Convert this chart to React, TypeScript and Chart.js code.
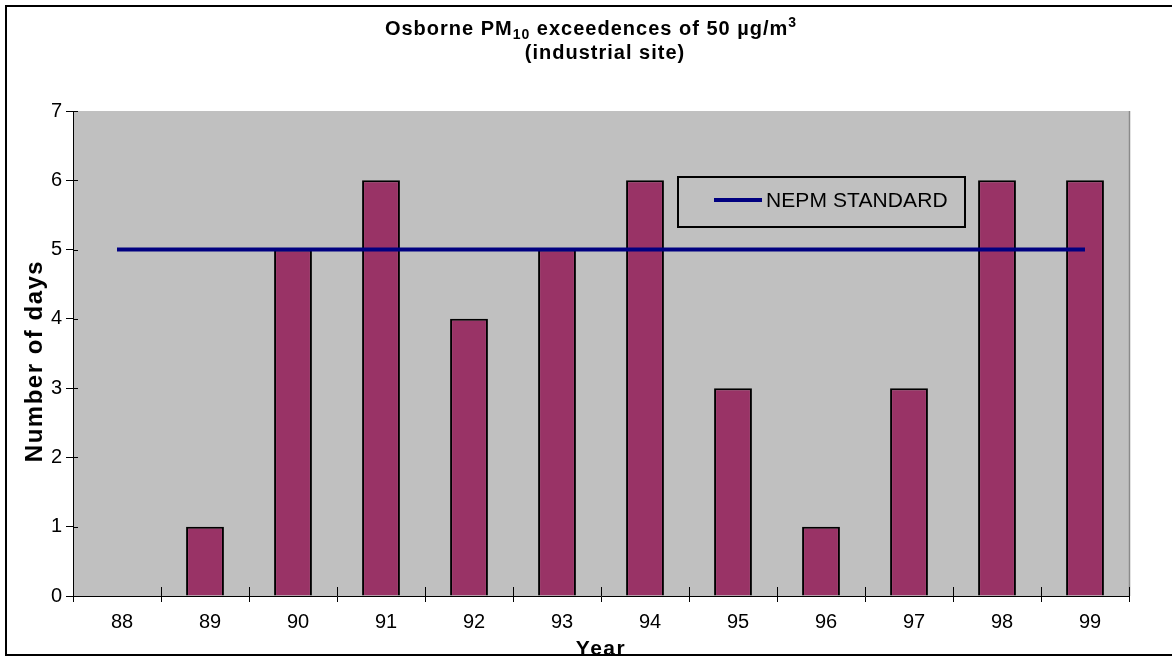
import React, { useEffect, useRef } from "react";
import { Chart, registerables } from "chart.js";

Chart.register(...registerables);

// ---- data ----
const years = ["88", "89", "90", "91", "92", "93", "94", "95", "96", "97", "98", "99"];
const exceedenceDays = [0, 1, 5, 6, 4, 5, 6, 3, 1, 3, 6, 6];
const nepmStandard = [5, 5, 5, 5, 5, 5, 5, 5, 5, 5, 5, 5];
const yMin = 0;
const yMax = 7;
const barLabel = "Exceedences";
const lineLabel = "NEPM STANDARD";
const titleLine1 = [
  { text: "Osborne PM", kind: "normal" },
  { text: "10", kind: "sub" },
  { text: " exceedences of 50 \u00b5g/m", kind: "normal" },
  { text: "3", kind: "sup" },
];
const titleLine2 = "(industrial site)";
const yAxisTitle = "Number of days";
const xAxisTitle = "Year";

const FONT = "'Liberation Sans', Arial, sans-serif";

const decorPlugin = {
  id: "decor",
  beforeDraw(chart: any) {
    const { ctx, chartArea: a, width, height } = chart;
    ctx.save();
    ctx.fillStyle = "#ffffff";
    ctx.fillRect(0, 0, width, height);
    ctx.fillStyle = "#C0C0C0";
    ctx.fillRect(a.left, a.top, a.right - a.left, a.bottom - a.top);
    ctx.strokeStyle = "#8a8a8a";
    ctx.lineWidth = 1.5;
    ctx.beginPath();
    ctx.moveTo(a.right + 0.5, a.top);
    ctx.lineTo(a.right + 0.5, a.bottom);
    ctx.stroke();
    ctx.strokeStyle = "#000";
    ctx.lineWidth = 2;
    ctx.strokeRect(6, 6, width + 20, height - 12);
    ctx.restore();
  },
  afterDatasetsDraw(chart: any) {
    const { ctx, chartArea: a, scales } = chart;
    ctx.save();
    ctx.strokeStyle = "#000";
    ctx.lineWidth = 1;
    for (let v = yMin; v <= yMax; v++) {
      const y = Math.round(scales.y.getPixelForValue(v)) + 0.5;
      ctx.beginPath();
      ctx.moveTo(a.left, y);
      ctx.lineTo(a.left + 5, y);
      ctx.stroke();
    }
    const n = years.length;
    for (let i = 0; i <= n; i++) {
      const x = Math.round(scales.x.getPixelForValue(i - 0.5)) + 0.5;
      ctx.beginPath();
      ctx.moveTo(x, a.bottom);
      ctx.lineTo(x, a.bottom - 9);
      ctx.stroke();
    }
    ctx.restore();
  },
  afterDraw(chart: any) {
    const { ctx } = chart;
    ctx.save();
    ctx.fillStyle = "#000";
    ctx.textBaseline = "alphabetic";
    (ctx as any).letterSpacing = "1px";
    const fontFor = (k: string) => (k === "normal" ? `bold 20px ${FONT}` : `bold 14px ${FONT}`);
    let total = 0;
    for (const s of titleLine1) {
      ctx.font = fontFor(s.kind);
      total += ctx.measureText(s.text).width;
    }
    let x = 591 - total / 2;
    const base1 = 35;
    ctx.textAlign = "left";
    for (const s of titleLine1) {
      ctx.font = fontFor(s.kind);
      const dy = s.kind === "sub" ? 4 : s.kind === "sup" ? -8 : 0;
      ctx.fillText(s.text, x, base1 + dy);
      x += ctx.measureText(s.text).width;
    }
    ctx.font = `bold 20px ${FONT}`;
    ctx.textAlign = "center";
    ctx.fillText(titleLine2, 605, 59);
    // axis titles
    (ctx as any).letterSpacing = "1.5px";
    ctx.font = `bold 21px ${FONT}`;
    ctx.fillText(xAxisTitle, 601, 655);
    ctx.save();
    ctx.font = `bold 24px ${FONT}`;
    ctx.translate(42, 361);
    ctx.rotate(-Math.PI / 2);
    ctx.fillText(yAxisTitle, 0, 0);
    ctx.restore();
    // legend
    ctx.strokeStyle = "#000";
    ctx.lineWidth = 2;
    ctx.strokeRect(678, 177, 287, 50);
    const ds = chart.data.datasets[1];
    ctx.strokeStyle = ds.borderColor;
    ctx.lineWidth = 4;
    ctx.beginPath();
    ctx.moveTo(714, 200);
    ctx.lineTo(762, 200);
    ctx.stroke();
    (ctx as any).letterSpacing = "0.1px";
    ctx.font = `21px ${FONT}`;
    ctx.textAlign = "left";
    ctx.textBaseline = "middle";
    ctx.fillStyle = "#000";
    ctx.fillText(ds.label, 766, 201);
    ctx.restore();
  },
};

export default function App() {
  const canvasRef = useRef<HTMLCanvasElement | null>(null);

  useEffect(() => {
    document.body.style.margin = "0";
    const canvas = canvasRef.current;
    if (!canvas) return;
    Chart.defaults.font.family = FONT;
    Chart.defaults.color = "#000";
    const chart = new Chart(canvas, {
      type: "bar",
      data: {
        labels: years,
        datasets: [
          {
            type: "bar",
            label: barLabel,
            data: exceedenceDays,
            backgroundColor: "#993366",
            borderColor: "#000000",
            borderWidth: 2,
            barPercentage: 0.43,
            categoryPercentage: 1,
            order: 2,
          },
          {
            type: "line",
            label: lineLabel,
            data: nepmStandard,
            borderColor: "#000080",
            backgroundColor: "#000080",
            borderWidth: 4,
            pointRadius: 0,
            fill: false,
            order: 1,
          } as any,
        ],
      },
      options: {
        responsive: false,
        animation: false,
        layout: { padding: { left: 0, right: 43, top: 111, bottom: 0 } },
        plugins: {
          legend: { display: false },
          title: { display: false },
          tooltip: { enabled: false },
        },
        scales: {
          x: {
            offset: true,
            grid: {
              offset: true,
              drawOnChartArea: false,
              drawTicks: true,
              tickLength: 6,
              color: "#000",
              lineWidth: 1,
            },
            border: { display: true, color: "#000", width: 1 },
            ticks: {
              font: { size: 20 },
              color: "#000",
              padding: 8,
              labelOffset: 5,
              maxRotation: 0,
              autoSkip: false,
            },
            afterFit: (s: any) => {
              s.height = 65;
            },
          },
          y: {
            min: yMin,
            max: yMax,
            grid: {
              drawOnChartArea: false,
              drawTicks: true,
              tickLength: 7,
              color: "#000",
              lineWidth: 1,
            },
            border: { display: true, color: "#000", width: 1 },
            ticks: {
              stepSize: 1,
              font: { size: 20 },
              color: "#000",
              padding: 4,
            },
            afterFit: (s: any) => {
              s.width = 73;
            },
          },
        },
      },
      plugins: [decorPlugin],
    });
    return () => chart.destroy();
  }, []);

  return <canvas ref={canvasRef} width={1172} height={661} style={{ display: "block" }} />;
}
